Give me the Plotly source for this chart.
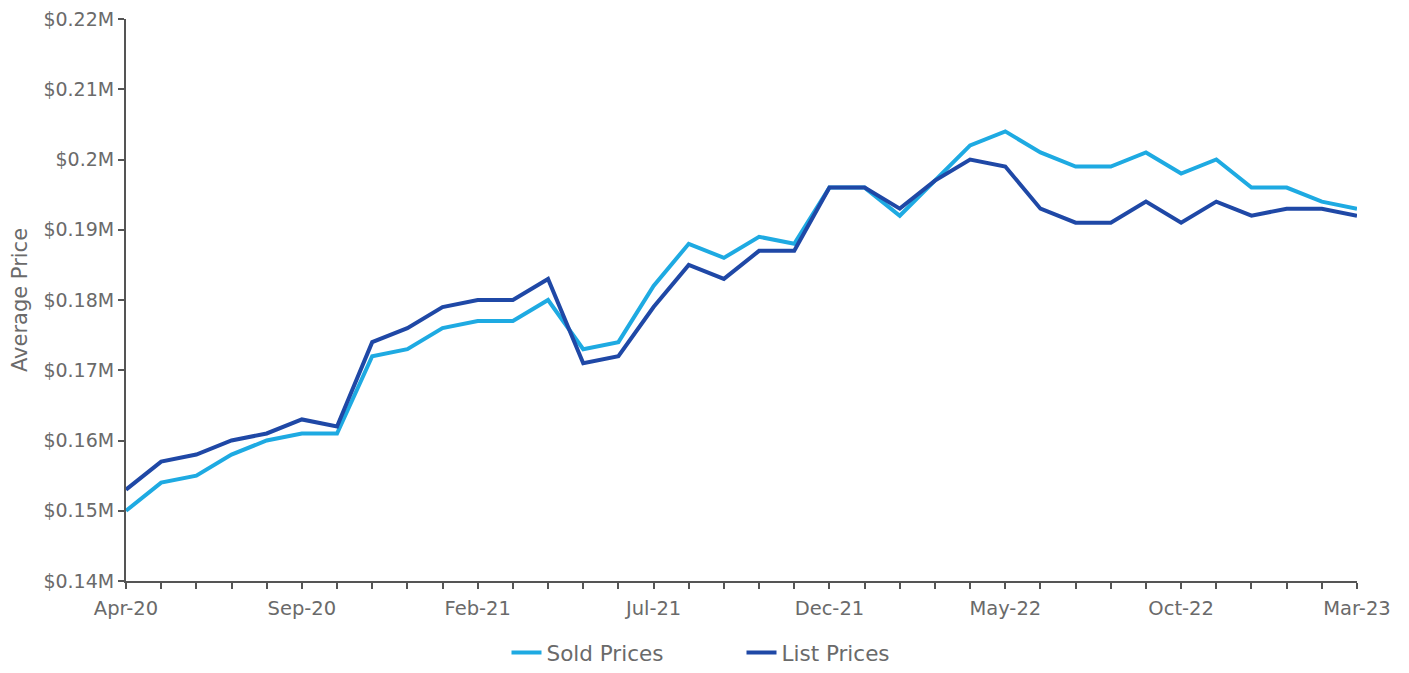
import plotly.graph_objects as go

months = ["Apr-20", "May-20", "Jun-20", "Jul-20", "Aug-20", "Sep-20", "Oct-20", "Nov-20", "Dec-20",
          "Jan-21", "Feb-21", "Mar-21", "Apr-21", "May-21", "Jun-21", "Jul-21", "Aug-21", "Sep-21",
          "Oct-21", "Nov-21", "Dec-21", "Jan-22", "Feb-22", "Mar-22", "Apr-22", "May-22", "Jun-22",
          "Jul-22", "Aug-22", "Sep-22", "Oct-22", "Nov-22", "Dec-22", "Jan-23", "Feb-23", "Mar-23"]

sold_prices = [0.150, 0.154, 0.155, 0.158, 0.160, 0.161, 0.161, 0.172, 0.173,
               0.176, 0.177, 0.177, 0.180, 0.173, 0.174, 0.182, 0.188, 0.186,
               0.189, 0.188, 0.196, 0.196, 0.192, 0.197, 0.202, 0.204, 0.201,
               0.199, 0.199, 0.201, 0.198, 0.200, 0.196, 0.196, 0.194, 0.193]

list_prices = [0.153, 0.157, 0.158, 0.160, 0.161, 0.163, 0.162, 0.174, 0.176,
               0.179, 0.180, 0.180, 0.183, 0.171, 0.172, 0.179, 0.185, 0.183,
               0.187, 0.187, 0.196, 0.196, 0.193, 0.197, 0.200, 0.199, 0.193,
               0.191, 0.191, 0.194, 0.191, 0.194, 0.192, 0.193, 0.193, 0.192]

labeled_months = ["Apr-20", "Sep-20", "Feb-21", "Jul-21", "Dec-21", "May-22", "Oct-22", "Mar-23"]

y_ticks = [0.14, 0.15, 0.16, 0.17, 0.18, 0.19, 0.20, 0.21, 0.22]
y_tick_labels = ["$0.14M", "$0.15M", "$0.16M", "$0.17M", "$0.18M", "$0.19M", "$0.2M", "$0.21M", "$0.22M"]

x_idx = list(range(len(months)))
x_text = [m if m in labeled_months else "" for m in months]

FONT = "DejaVu Sans, Verdana, sans-serif"
GRAY = "#6a6a6a"
AXIS = "#555555"

fig = go.Figure()
fig.add_trace(go.Scatter(x=x_idx, y=sold_prices, mode="lines", name="Sold Prices",
                         line=dict(color="#1eaae2", width=4)))
fig.add_trace(go.Scatter(x=x_idx, y=list_prices, mode="lines", name="List Prices",
                         line=dict(color="#1f48a6", width=4)))

fig.update_layout(
    width=1409, height=673,
    margin=dict(l=126, r=52, t=19, b=92),
    paper_bgcolor="white", plot_bgcolor="white",
    font=dict(family=FONT, size=19, color=GRAY),
    showlegend=True,
    legend=dict(orientation="h", x=0.5, xanchor="center",
                yref="container", y=0.0, yanchor="bottom",
                font=dict(family=FONT, size=21.5, color=GRAY),
                entrywidth=190, entrywidthmode="pixels"),
    xaxis=dict(range=[0, len(months) - 1], tickmode="array", tickvals=x_idx, ticktext=x_text,
               automargin=False,
               showgrid=False, zeroline=False, showline=True, linecolor=AXIS, linewidth=2,
               ticks="outside", ticklen=6, tickcolor=AXIS, tickwidth=1.5,
               ticklabelstandoff=3,
               tickfont=dict(family=FONT, size=19.5, color=GRAY)),
    yaxis=dict(range=[0.14, 0.22], tickmode="array", tickvals=y_ticks, ticktext=y_tick_labels,
               automargin=False,
               showgrid=False, zeroline=False, showline=True, linecolor=AXIS, linewidth=2,
               ticks="outside", ticklen=6, tickcolor=AXIS, tickwidth=1.5,
               tickfont=dict(family=FONT, size=19, color=GRAY),
               title=dict(text="Average Price", font=dict(family=FONT, size=21, color=GRAY),
                          standoff=10)),
)

fig.write_html("out.html", config={"displayModeBar": False},
               post_script="document.body.style.margin='0';")
